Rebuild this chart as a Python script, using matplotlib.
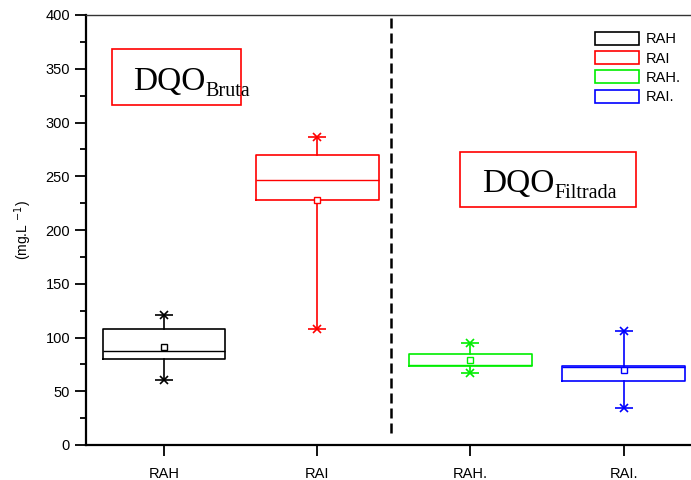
import matplotlib
matplotlib.use("Agg")
import matplotlib.pyplot as plt
from matplotlib.patches import Rectangle, Patch
from matplotlib.ticker import MultipleLocator

plt.rcParams['font.family'] = ['Liberation Sans', 'DejaVu Sans']

# Box statistics (mg/L)
categories = ["RAH", "RAI", "RAH.", "RAI."]
colors = ["black", "red", "#00ee00", "blue"]
q1 = [80.3, 227.9, 73.6, 60.0]
median = [87.7, 246.8, 74.2, 73.0]
q3 = [107.6, 269.8, 85.0, 73.8]
whis_lo = [60.2, 107.9, 67.3, 34.1]
whis_hi = [121.0, 286.8, 94.9, 106.0]
mean = [91.5, 228.0, 79.0, 69.5]

separator_x = 2.48

fig = plt.figure(figsize=(6.91, 4.80), dpi=100)
ax = fig.add_axes([86 / 691, 35 / 480, 605 / 691, 430 / 480])

positions = list(range(1, len(categories) + 1))
for i, pos in enumerate(positions):
    stats = [dict(med=median[i], q1=q1[i], q3=q3[i], whislo=whis_lo[i],
                  whishi=whis_hi[i], mean=mean[i], fliers=[], label=categories[i])]
    c = colors[i]
    ax.bxp(stats, positions=[pos], widths=0.8, showmeans=True, showcaps=False,
           patch_artist=False,
           boxprops=dict(color=c, lw=1.2),
           medianprops=dict(color=c, lw=1.0),
           whiskerprops=dict(color=c, lw=1.2),
           meanprops=dict(marker='s', markerfacecolor='white', markeredgecolor=c,
                          markersize=4, markeredgewidth=1.0))
    # asterisk-style end markers on the whiskers
    for v in (whis_lo[i], whis_hi[i]):
        ax.plot([pos], [v], marker='x', color=c, ms=6, mew=1.2)
        ax.plot([pos], [v], marker='_', color=c, ms=13, mew=1.2)

# separator between raw and filtered groups
ax.plot([separator_x, separator_x], [11, 400], ls=(0, (4, 2)), color='black', lw=1.8)

ax.set_xlim(0.49, 4.44)
ax.set_ylim(0, 400)
ax.set_xticks(positions)
ax.set_xticklabels(categories)
ax.yaxis.set_major_locator(MultipleLocator(50))
ax.yaxis.set_minor_locator(MultipleLocator(25))
ax.tick_params(axis='both', which='major', direction='out', length=8, width=1.3,
               labelsize=10.5, colors='black')
ax.tick_params(axis='y', which='minor', direction='out', length=4.5, width=1.3)
ax.tick_params(axis='x', pad=8)
ax.spines['right'].set_visible(False)
ax.spines['top'].set_linewidth(1.0)
ax.spines['top'].set_color('#333333')
for side in ('left', 'bottom'):
    ax.spines[side].set_linewidth(1.6)

ax.set_ylabel(r'(mg.L $^{-1}$)', fontsize=10, labelpad=8)

# group labels in framed boxes
ax.add_patch(Rectangle((0.043, 0.791), 0.213, 0.130, transform=ax.transAxes,
                       fill=False, edgecolor='red', lw=1.2, clip_on=False))
t1 = ax.text(47 / 605, (445 - 90) / 430, 'DQO', transform=ax.transAxes,
             family='Liberation Serif', fontsize=24, va='baseline', ha='left')
ax.annotate('Bruta', xy=(1, 0), xycoords=t1, xytext=(0, -3),
            textcoords='offset points', family='Liberation Serif',
            fontsize=14.5, va='bottom', ha='left')

ax.add_patch(Rectangle((374 / 605, (445 - 207.3) / 430), 175.7 / 605, 55.6 / 430,
                       transform=ax.transAxes, fill=False, edgecolor='red', lw=1.2,
                       clip_on=False))
t2 = ax.text(395.7 / 605, (445 - 191.7) / 430, 'DQO', transform=ax.transAxes,
             family='Liberation Serif', fontsize=24, va='baseline', ha='left')
ax.annotate('Filtrada', xy=(1, 0), xycoords=t2, xytext=(0, -3),
            textcoords='offset points', family='Liberation Serif',
            fontsize=14.5, va='bottom', ha='left')

handles = [Patch(facecolor='white', edgecolor=c, lw=1.2) for c in colors]
ax.legend(handles, categories, loc='upper right', bbox_to_anchor=(1.0, 0.985),
          frameon=False, fontsize=10.5, handlelength=3.0, handleheight=1.0,
          handletextpad=0.5, labelspacing=0.33, borderaxespad=0.3)

fig.savefig('out.png', dpi=100)
